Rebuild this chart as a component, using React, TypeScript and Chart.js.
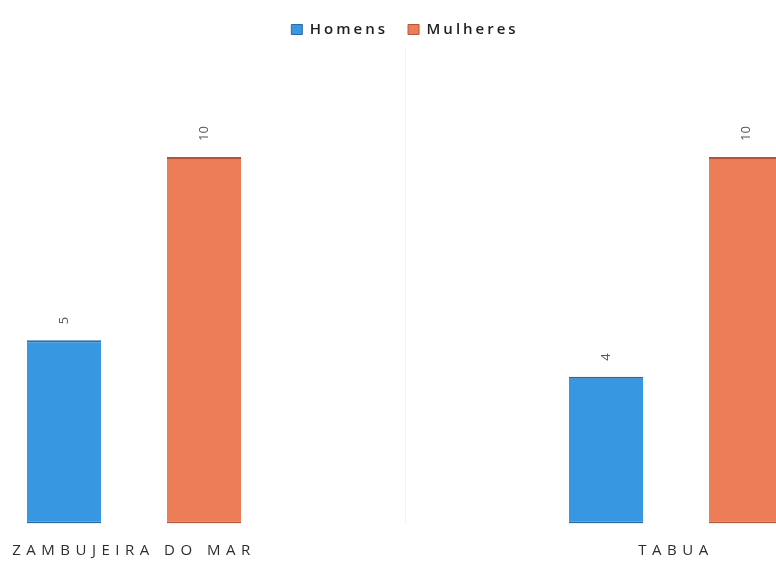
import React, { useEffect, useRef } from "react";
import { Chart, registerables } from "chart.js";

Chart.register(...registerables);

const categories = ["ZAMBUJEIRA DO MAR", "TABUA"];
const seriesNames = ["Homens", "Mulheres"];
const homens = [5, 4];
const mulheres = [10, 10];
const Y_MAX = 13;

const BLUE = "#3797e0";
const BLUE_EDGE = "#2a6aa6";
const ORANGE = "#ed7d57";
const ORANGE_EDGE = "#b2563a";

const LEGEND_SPACING = "3px";
const XLABEL_SPACING = "5.5px";

const spacingPlugin = {
  id: "spacingAndLabels",
  beforeLayout(chart: any) {
    chart.ctx.letterSpacing = LEGEND_SPACING;
  },
  afterLayout(chart: any) {
    chart.ctx.letterSpacing = "0px";
  },
  beforeDraw(chart: any) {
    chart.ctx.letterSpacing = LEGEND_SPACING;
  },
  afterDatasetsDraw(chart: any) {
    const ctx = chart.ctx;
    ctx.letterSpacing = "0px";
    chart.data.datasets.forEach((ds: any, di: number) => {
      const meta = chart.getDatasetMeta(di);
      meta.data.forEach((bar: any, i: number) => {
        const v = ds.data[i];
        ctx.save();
        ctx.translate(bar.x, bar.y - 16);
        ctx.rotate(-Math.PI / 2);
        ctx.font = "13px 'Open Sans', sans-serif";
        ctx.fillStyle = "#555555";
        ctx.textAlign = "left";
        ctx.textBaseline = "middle";
        ctx.fillText(String(v), 0, 0);
        ctx.restore();
      });
    });
    ctx.letterSpacing = XLABEL_SPACING;
  },
  afterDraw(chart: any) {
    chart.ctx.letterSpacing = "0px";
  },
};

export default function App() {
  const ref = useRef<HTMLCanvasElement | null>(null);

  useEffect(() => {
    if (!ref.current) return;
    Chart.defaults.font.family = "'Open Sans', sans-serif";
    const chart = new Chart(ref.current, {
      type: "bar",
      data: {
        labels: categories,
        datasets: [
          {
            label: seriesNames[0],
            data: homens,
            backgroundColor: BLUE,
            borderColor: BLUE_EDGE,
            borderWidth: { top: 2, bottom: 2, left: 0, right: 0 },
            borderSkipped: false,
            categoryPercentage: 0.5166,
            barPercentage: 0.5286,
          },
          {
            label: seriesNames[1],
            data: mulheres,
            backgroundColor: ORANGE,
            borderColor: ORANGE_EDGE,
            borderWidth: { top: 2, bottom: 2, left: 0, right: 0 },
            borderSkipped: false,
            categoryPercentage: 0.5166,
            barPercentage: 0.5286,
          },
        ],
      },
      options: {
        responsive: false,
        animation: false,
        layout: { padding: { top: 2, bottom: 3.6, left: 0, right: 0 } },
        plugins: {
          legend: {
            position: "top",
            labels: {
              boxWidth: 11,
              boxHeight: 10,
              padding: 20,
              color: "#1e1e1e",
              font: { size: 15, weight: "600", family: "'Open Sans', sans-serif" },
            },
          },
          tooltip: { enabled: false },
        },
        scales: {
          x: {
            grid: { display: true, drawTicks: false, color: "#f3f3f3", offset: true },
            border: { display: false },
            ticks: {
              z: 1,
              padding: 18,
              color: "#2e2e2e",
              maxRotation: 0,
              autoSkip: false,
              font: { size: 15, family: "'Open Sans', sans-serif" },
            },
          },
          y: {
            display: false,
            min: 0,
            max: Y_MAX,
          },
        },
      },
      plugins: [spacingPlugin],
    });
    return () => chart.destroy();
  }, []);

  return (
    <div
      style={{
        position: "fixed",
        left: 0,
        top: 0,
        width: 776,
        height: 561,
        overflow: "hidden",
        background: "#ffffff",
      }}
    >
      <canvas
        ref={ref}
        width={1084}
        height={581}
        style={{ position: "absolute", left: -137, top: 0, width: 1084, height: 581 }}
      />
    </div>
  );
}
